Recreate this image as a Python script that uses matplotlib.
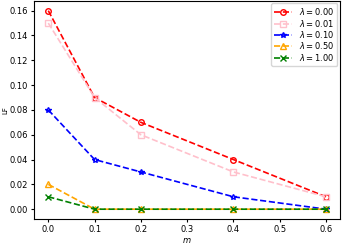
import matplotlib
matplotlib.use('Agg')
import matplotlib.pyplot as plt

m = [0.0, 0.1, 0.2, 0.4, 0.6]
lambdas = [0.00, 0.01, 0.10, 0.50, 1.00]
lf_00 = [0.16, 0.09, 0.07, 0.04, 0.01]
lf_01 = [0.15, 0.09, 0.06, 0.03, 0.01]
lf_10 = [0.08, 0.04, 0.03, 0.01, 0.0]
lf_50 = [0.02, 0.0, 0.0, 0.0, 0.0]
lf_100 = [0.01, 0.0, 0.0, 0.0, 0.0]

series = [lf_00, lf_01, lf_10, lf_50, lf_100]
colors = ['red', 'pink', 'blue', 'orange', 'green']
markers = ['o', 's', '*', '^', 'x']

fig, ax = plt.subplots(figsize=(3.44, 2.44), dpi=100)
for lam, y, c, mk in zip(lambdas, series, colors, markers):
    ax.plot(m, y, linestyle='--', color=c, marker=mk, fillstyle='none',
            markersize=4, linewidth=1.2, label=r'$\lambda = %.2f$' % lam)
ax.set_xlabel(r'$m$', fontsize=6, labelpad=1)
ax.set_ylabel('LF', fontsize=5, labelpad=1)
ax.tick_params(labelsize=6, length=2.5, pad=2)
ax.legend(fontsize=6, loc='upper right', handlelength=2.2, borderpad=0.35,
          labelspacing=0.05, borderaxespad=0.3)
fig.subplots_adjust(left=0.1, right=0.988, top=0.997, bottom=0.102)
fig.savefig('out.png')
